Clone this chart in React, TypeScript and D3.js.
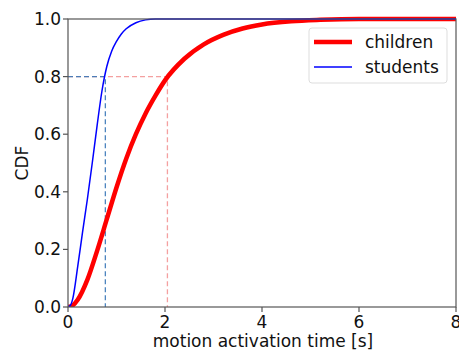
import React from "react";
import * as d3 from "d3";

// Empirical CDF of motion activation time, sampled along each curve
const childrenTime = [0, 0.1, 0.2, 0.4, 0.6, 0.8, 1.0, 1.2, 1.4, 1.6, 1.8, 2.0, 2.4, 2.8, 3.2, 3.6, 4.0, 4.6, 5.2, 6.0, 8.0];
const childrenCdf = [0, 0.006, 0.025, 0.095, 0.195, 0.305, 0.415, 0.515, 0.6, 0.672, 0.733, 0.787, 0.862, 0.912, 0.945, 0.967, 0.981, 0.992, 0.997, 1.0, 1.0];

const studentsTime = [0, 0.05, 0.1, 0.2, 0.3, 0.4, 0.5, 0.6, 0.7, 0.8, 0.9, 1.0, 1.1, 1.2, 1.4, 1.6, 1.8, 8.0];
const studentsCdf = [0, 0.006, 0.03, 0.14, 0.26, 0.375, 0.5, 0.63, 0.75, 0.835, 0.888, 0.922, 0.948, 0.966, 0.987, 0.997, 1.0, 1.0];

// 80th percentile markers
const quantileLevel = 0.8;
const childrenQ80 = 2.05;
const studentsQ80 = 0.77;

const xTicks = [0, 2, 4, 6, 8];
const yTicks = [0, 0.2, 0.4, 0.6, 0.8, 1.0];

const W = 459;
const H = 350;
const plot = { left: 68, right: 456, top: 19, bottom: 307 };

export default function App() {
  const x = d3.scaleLinear().domain([0, 8]).range([plot.left, plot.right]);
  const y = d3.scaleLinear().domain([0, 1]).range([plot.bottom, plot.top]);

  const line = d3
    .line<[number, number]>()
    .x((d) => x(d[0]))
    .y((d) => y(d[1]))
    .curve(d3.curveMonotoneX);

  const children = childrenTime.map((t, i) => [t, childrenCdf[i]] as [number, number]);
  const students = studentsTime.map((t, i) => [t, studentsCdf[i]] as [number, number]);

  const font = "'DejaVu Sans', sans-serif";
  const spine = "#555";
  const fs = 17;

  return (
    <svg
      width={W}
      height={H}
      style={{ position: "absolute", left: 0, top: 0, background: "#fff" }}
      fontFamily={font}
    >
      <defs>
        <clipPath id="plotArea">
          <rect x={plot.left} y={plot.top - 3} width={plot.right - plot.left} height={plot.bottom - plot.top + 3} />
        </clipPath>
      </defs>

      {/* percentile guides */}
      <g fill="none" strokeWidth={1.3} strokeDasharray="5,3">
        <path
          d={`M${x(0)},${y(quantileLevel)}H${x(childrenQ80)}V${y(0)}`}
          stroke="#f08080"
          strokeOpacity={0.75}
        />
        <path
          d={`M${x(0)},${y(quantileLevel)}H${x(studentsQ80)}V${y(0)}`}
          stroke="#3a78b8"
          strokeOpacity={0.9}
        />
      </g>

      {/* CDF curves */}
      <g clipPath="url(#plotArea)" fill="none">
        <path d={line(children) ?? ""} stroke="#ff0000" strokeWidth={4.5} />
        <path d={line(students) ?? ""} stroke="#0000ff" strokeWidth={1.5} />
      </g>

      {/* frame */}
      <rect
        x={plot.left}
        y={plot.top}
        width={plot.right - plot.left}
        height={plot.bottom - plot.top}
        fill="none"
        stroke={spine}
        strokeWidth={1.2}
      />

      {/* x axis */}
      <g fontSize={fs} fill="#111" textAnchor="middle">
        {xTicks.map((t) => (
          <g key={t}>
            <line x1={x(t)} x2={x(t)} y1={plot.bottom} y2={plot.bottom + 5} stroke={spine} strokeWidth={1.2} />
            <text x={x(t)} y={plot.bottom + 21}>
              {t}
            </text>
          </g>
        ))}
        <text x={(plot.left + plot.right) / 2 + 1} y={347}>
          motion activation time [s]
        </text>
      </g>

      {/* y axis */}
      <g fontSize={fs} fill="#111" textAnchor="end">
        {yTicks.map((t) => (
          <g key={t}>
            <line x1={plot.left - 5} x2={plot.left} y1={y(t)} y2={y(t)} stroke={spine} strokeWidth={1.2} />
            <text x={plot.left - 7} y={y(t) + 6}>
              {t.toFixed(1)}
            </text>
          </g>
        ))}
        <text transform={`translate(28,${(plot.top + plot.bottom) / 2}) rotate(-90)`} textAnchor="middle">
          CDF
        </text>
      </g>

      {/* legend */}
      <g>
        <rect x={309} y={28} width={138} height={55} rx={3} fill="#fff" fillOpacity={0.85} stroke="#ddd" />
        <line x1={314} x2={352} y1={42} y2={42} stroke="#ff0000" strokeWidth={4.5} />
        <line x1={314} x2={352} y1={67} y2={67} stroke="#0000ff" strokeWidth={1.5} />
        <text x={365} y={48} fontSize={fs} fill="#111">
          children
        </text>
        <text x={365} y={73} fontSize={fs} fill="#111">
          students
        </text>
      </g>
    </svg>
  );
}
